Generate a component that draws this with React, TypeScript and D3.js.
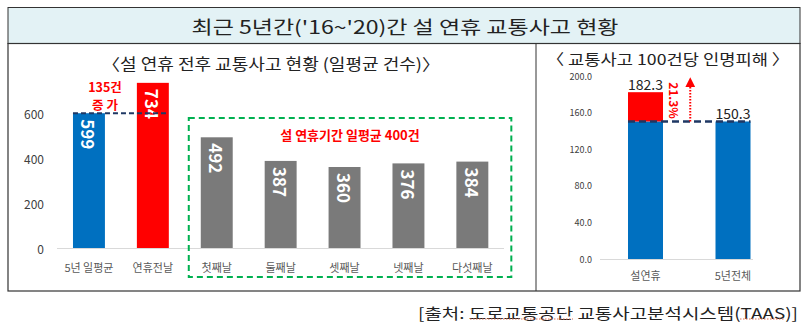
import React from 'react';
import * as d3 from 'd3';

const title = "최근 5년간('16~'20)간 설 연휴 교통사고 현황";
const leftTitle = '〈설 연휴 전후 교통사고 현황 (일평균 건수)〉';
const rightTitle = '〈 교통사고 100건당 인명피해 〉';
const sourceText = '[출처: 도로교통공단 교통사고분석시스템(TAAS)]';

const leftCategories = ['5년 일평균', '연휴전날', '첫째날', '둘째날', '셋째날', '넷째날', '다섯째날'];
const leftValues = [599, 734, 492, 387, 360, 376, 384];
const leftTicks = [0, 200, 400, 600];

const rightCategories = ['설연휴', '5년전체'];
const rightValues = [182.3, 150.3];
const rightTicks = [0, 40, 80, 120, 160, 200];

const FONT = "'Noto Sans CJK KR', 'Noto Sans', sans-serif";
const BLUE = '#0070c0';
const RED = '#ff0000';
const GRAY = '#7a7a7a';
const NAVY = '#1f3864';
const GREEN = '#00b050';

export default function App() {
  const W = 807, H = 327;

  // left chart scales
  const xL = d3.scaleBand<string>().domain(leftCategories).range([57, 504.3]).paddingInner(0.5).paddingOuter(0.25);
  const yL = d3.scaleLinear().domain([0, 800]).range([248, 68]);
  const leftColors = (i: number) => (i === 0 ? BLUE : i === 1 ? RED : GRAY);
  const increase = leftValues[1] - leftValues[0];
  const holidayVals = leftValues.slice(2);
  const holidayAvg = Math.round(d3.mean(holidayVals) as number);

  // right chart scales
  const xR = d3.scaleBand<string>().domain(rightCategories).range([600, 778.5]).paddingInner(0.6).paddingOuter(0.32);
  const yR = d3.scaleLinear().domain([0, 200]).range([259, 76]);
  const base = rightValues[1];
  const pct = ((rightValues[0] - base) / base) * 100;

  const bw = xL.bandwidth();
  const bwR = xR.bandwidth();

  const firstHoliday = xL(leftCategories[2]) as number;
  const lastHoliday = (xL(leftCategories[6]) as number) + bw;

  const arrowX = ((xR(rightCategories[0]) as number) + bwR + (xR(rightCategories[1]) as number)) / 2;

  return (
    <svg width={W} height={H} style={{ position: 'absolute', left: 0, top: 0, background: '#fff' }} fontFamily={FONT}>
      <defs>
        <marker id="arrowHead" viewBox="0 0 10 10" refX="5" refY="5" markerWidth="5" markerHeight="5" orient="auto">
          <path d="M0,0 L10,5 L0,10 z" fill={RED} />
        </marker>
      </defs>
      {/* frame */}
      <rect x={8} y={7.5} width={792} height={36} fill="#e3f2f5" stroke="#333" strokeWidth={1} />
      <rect x={8} y={43.5} width={792} height={247.5} fill="none" stroke="#333" strokeWidth={1.2} />
      <line x1={536} x2={536} y1={43.5} y2={291} stroke="#333" strokeWidth={1} />
      <text x={405} y={26} textAnchor="middle" dominantBaseline="central" fontSize={18} fill="#222" textLength={427} lengthAdjust="spacingAndGlyphs">{title}</text>

      {/* left subtitle */}
      <text x={271} y={63} textAnchor="middle" dominantBaseline="central" fontSize={16} fill="#222" textLength={338} lengthAdjust="spacingAndGlyphs">{leftTitle}</text>

      {/* left axis */}
      <line x1={57} x2={504} y1={yL(0) + 0.5} y2={yL(0) + 0.5} stroke="#d9d9d9" strokeWidth={1} />
      {leftTicks.map(t => (
        <text key={t} x={44} y={yL(t)} textAnchor="end" dominantBaseline="central" fontSize={12} fill="#404040">{t}</text>
      ))}
      {leftValues.map((v, i) => {
        const x = xL(leftCategories[i]) as number;
        return (
          <g key={i}>
            <rect x={x} y={yL(v)} width={bw} height={yL(0) - yL(v)} fill={leftColors(i)} />
            <text transform={`translate(${x + bw / 2},${yL(v) + 6}) rotate(90)`} textAnchor="start" dominantBaseline="central" fontSize={17} fontWeight="bold" fill="#fff">{v}</text>
            <text x={x + bw / 2} y={267} textAnchor="middle" dominantBaseline="central" fontSize={11} fill="#595959">{leftCategories[i]}</text>
          </g>
        );
      })}
      {/* 599 reference dashed line */}
      <line x1={xL(leftCategories[0])} x2={(xL(leftCategories[1]) as number) + bw} y1={yL(leftValues[0])} y2={yL(leftValues[0])} stroke={NAVY} strokeWidth={2} strokeDasharray="5,3" />
      <text x={105} y={86} textAnchor="middle" dominantBaseline="central" fontSize={12.5} fontWeight="bold" fill={RED}>{`${increase}건`}</text>
      <text x={105} y={104} textAnchor="middle" dominantBaseline="central" fontSize={12.5} fontWeight="bold" fill={RED}>증 가</text>

      {/* green box */}
      <rect x={firstHoliday - 12} y={118} width={lastHoliday - firstHoliday + 35} height={159} fill="none" stroke={GREEN} strokeWidth={2} strokeDasharray="6,4" />
      <text x={350} y={134} textAnchor="middle" dominantBaseline="central" fontSize={13} fontWeight="bold" fill={RED}>{`설 연휴기간 일평균 ${holidayAvg}건`}</text>

      {/* right subtitle */}
      <text x={668} y={58.5} textAnchor="middle" dominantBaseline="central" fontSize={15} fill="#222" textLength={243} lengthAdjust="spacingAndGlyphs">{rightTitle}</text>

      {/* right axis */}
      <line x1={600} x2={753} y1={yR(0) + 0.5} y2={yR(0) + 0.5} stroke="#d9d9d9" strokeWidth={1} />
      {rightTicks.map(t => (
        <text key={t} x={592} y={yR(t)} textAnchor="end" dominantBaseline="central" fontSize={9} fill="#404040">{t.toFixed(1)}</text>
      ))}
      {rightCategories.map((c, i) => {
        const x = xR(c) as number;
        const v = rightValues[i];
        return (
          <g key={c}>
            <rect x={x} y={yR(Math.min(v, base))} width={bwR} height={yR(0) - yR(Math.min(v, base))} fill={BLUE} />
            {v > base && <rect x={x} y={yR(v)} width={bwR} height={yR(base) - yR(v)} fill={RED} />}
            <text x={x + bwR / 2} y={yR(v) - 8} textAnchor="middle" dominantBaseline="central" fontSize={14} fill="#222">{v.toFixed(1)}</text>
            <text x={x + bwR / 2} y={275} textAnchor="middle" dominantBaseline="central" fontSize={11} fill="#595959">{c}</text>
          </g>
        );
      })}
      <line x1={xR(rightCategories[0])} x2={(xR(rightCategories[1]) as number) + bwR} y1={yR(base)} y2={yR(base)} stroke={NAVY} strokeWidth={2.5} strokeDasharray="7,4" />
      <line x1={arrowX + 1} x2={arrowX + 1} y1={yR(base)} y2={yR(rightValues[0]) - 10} stroke={RED} strokeWidth={2} strokeDasharray="1.5,1.5" markerEnd="url(#arrowHead)" />
      <text transform={`translate(${arrowX - 15},${yR(rightValues[0]) - 10}) rotate(90)`} textAnchor="start" dominantBaseline="central" fontSize={12} fontWeight="bold" fill={RED}>{`${pct.toFixed(1)}%`}</text>

      {/* source */}
      <text x={798} y={312} textAnchor="end" dominantBaseline="central" fontSize={15} fill="#222" textLength={380} lengthAdjust="spacingAndGlyphs">{sourceText}</text>
      <line x1={470} x2={573} y1={319} y2={319} stroke="#e07050" strokeWidth={1} strokeDasharray="1.5,1.5" />
      <line x1={740} x2={785} y1={319} y2={319} stroke="#e07050" strokeWidth={1} strokeDasharray="1.5,1.5" />
    </svg>
  );
}
